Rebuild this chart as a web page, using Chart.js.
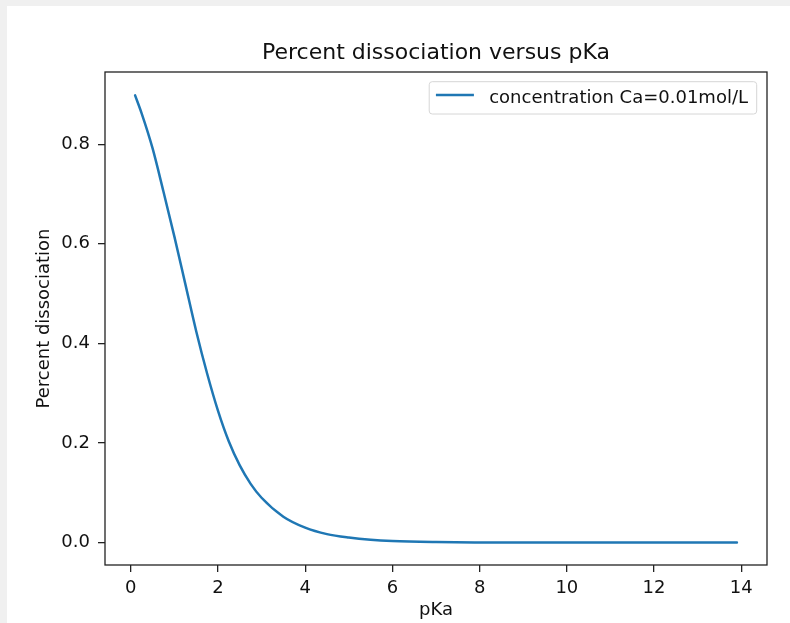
<!DOCTYPE html>
<html>
<head>
<meta charset="utf-8">
<title>Percent dissociation versus pKa</title>
<script src="https://cdn.jsdelivr.net/npm/chart.js@4.4.1/dist/chart.umd.min.js"></script>
<style>
  html, body { margin: 0; padding: 0; background: #f0f0f0; }
  #wrap { position: absolute; left: 7px; top: 6px; width: 783px; height: 617px; background: #fff; }
</style>
</head>
<body>
<div id="wrap"><canvas id="chart" width="783" height="617"></canvas></div>
<script>
// Values
const pKa = [0.1, 0.25, 0.5, 0.75, 1.0, 1.25, 1.5, 1.75, 2.0, 2.25, 2.5, 2.75, 3.0, 3.5, 4.0, 4.5, 5.0, 5.5, 6.0, 7.0, 8.0, 10.0, 12.0, 13.9];
const dissociation = [0.898, 0.862, 0.792, 0.705, 0.615, 0.520, 0.425, 0.340, 0.265, 0.203, 0.155, 0.118, 0.090, 0.052, 0.030, 0.017, 0.010, 0.0055, 0.003, 0.001, 0.0003, 0.0, 0.0, 0.0];
const xTicks = [0, 2, 4, 6, 8, 10, 12, 14];
const yTicks = [0.0, 0.2, 0.4, 0.6, 0.8];
const seriesLabel = 'concentration Ca=0.01mol/L';

const FONT = '"DejaVu Sans", Verdana, sans-serif';
const LINE = '#1f77b4';
const INK = '#111';
const SPINE = '#222';

Chart.defaults.font.family = FONT;

// Box round the plot plus a matplotlib style legend in the top right corner
const framePlugin = {
  id: 'frame',
  afterDraw(chart) {
    const { ctx, chartArea: a } = chart;
    ctx.save();
    ctx.strokeStyle = SPINE;
    ctx.lineWidth = 1.3;
    ctx.strokeRect(a.left, a.top, a.right - a.left, a.bottom - a.top);

    const ds = chart.data.datasets[0];
    ctx.font = '18px ' + FONT;
    const tw = ctx.measureText(ds.label).width;
    const boxW = 6.7 + 38 + 15.3 + tw + 8.7;
    const boxH = 32.3;
    const boxL = a.right - 10.3 - boxW;
    const boxT = a.top + 9.7;
    ctx.beginPath();
    ctx.roundRect(boxL, boxT, boxW, boxH, 3);
    ctx.fillStyle = 'rgba(255,255,255,0.8)';
    ctx.fill();
    ctx.strokeStyle = '#d6d6d6';
    ctx.lineWidth = 1;
    ctx.stroke();

    ctx.beginPath();
    ctx.moveTo(boxL + 6.7, boxT + 13.3);
    ctx.lineTo(boxL + 44.7, boxT + 13.3);
    ctx.strokeStyle = ds.borderColor;
    ctx.lineWidth = 2.5;
    ctx.stroke();

    ctx.fillStyle = INK;
    ctx.textBaseline = 'alphabetic';
    ctx.textAlign = 'left';
    ctx.fillText(ds.label, boxL + 60, boxT + 21.6);
    ctx.restore();
  }
};

new Chart(document.getElementById('chart'), {
  type: 'line',
  data: {
    datasets: [{
      label: seriesLabel,
      data: pKa.map((x, i) => ({ x: x, y: dissociation[i] })),
      borderColor: LINE,
      borderWidth: 2.5,
      borderCapStyle: 'round',
      pointRadius: 0,
      fill: false,
      cubicInterpolationMode: 'monotone'
    }]
  },
  options: {
    responsive: false,
    animation: false,
    devicePixelRatio: 1,
    layout: { padding: { left: 0, right: 23, top: 0, bottom: 0 } },
    plugins: {
      legend: { display: false },
      tooltip: { enabled: false },
      title: {
        display: true,
        text: 'Percent dissociation versus pKa',
        fullSize: false,
        color: INK,
        font: { size: 22, weight: 'normal' },
        padding: { top: 34, bottom: 5.6 }
      }
    },
    scales: {
      x: {
        type: 'linear',
        min: -0.59,
        max: 14.59,
        afterBuildTicks: (s) => { s.ticks = xTicks.map(v => ({ value: v })); },
        afterFit: (s) => { s.height = 58; },
        border: { display: false },
        grid: { drawOnChartArea: false, drawTicks: true, tickLength: 7, color: SPINE, lineWidth: 1.3 },
        ticks: { color: INK, font: { size: 18 }, padding: 6, maxRotation: 0 },
        title: { display: true, text: 'pKa', color: INK, font: { size: 18 }, padding: { top: 0, bottom: 2 } }
      },
      y: {
        type: 'linear',
        min: -0.045,
        max: 0.945,
        afterBuildTicks: (s) => { s.ticks = yTicks.map(v => ({ value: v })); },
        afterFit: (s) => { s.width = 98; },
        border: { display: false },
        grid: { drawOnChartArea: false, drawTicks: true, tickLength: 7, color: SPINE, lineWidth: 1.3 },
        ticks: { color: INK, font: { size: 18 }, padding: 8, callback: (v) => v.toFixed(1) },
        title: { display: true, text: 'Percent dissociation', color: INK, font: { size: 18 }, padding: { top: 27, bottom: 0 } }
      }
    }
  },
  plugins: [framePlugin]
});
</script>
</body>
</html>
